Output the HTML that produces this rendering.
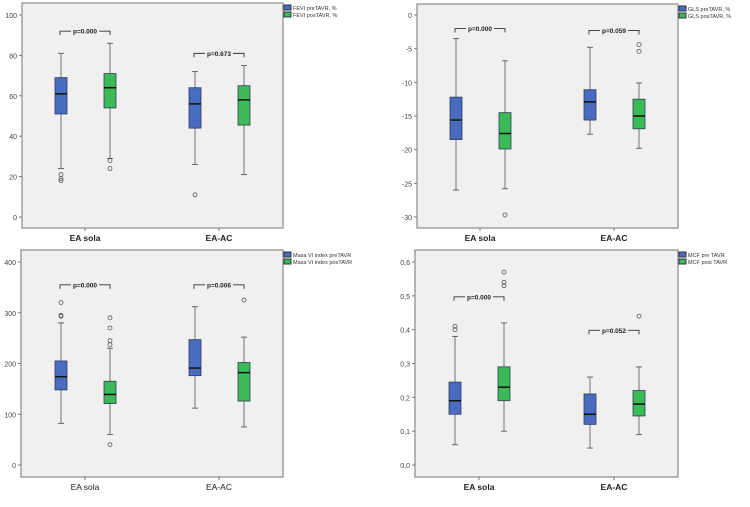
<!DOCTYPE html>
<html><head><meta charset="utf-8"><style>
body{margin:0;background:#fff;width:750px;height:502px;overflow:hidden;font-family:"Liberation Sans",sans-serif}
svg text{font-family:"Liberation Sans",sans-serif}
</style></head><body>
<svg id="c" width="750" height="502" xmlns="http://www.w3.org/2000/svg"></svg>
<script>
const groups = ["EA sola", "EA-AC"];
// [lowWhisker, Q1, median, Q3, highWhisker]
const fevi_pre = [[24,51,61,69,81],[26,44,56,64,72]];
const fevi_post = [[29,54,64,71,86],[21,45.5,58,65,75]];
const fevi_pre_out = [[21,19,18],[11]];
const fevi_post_out = [[28,24],[]];
const fevi_ticks = [0,20,40,60,80,100];
const fevi_p = ["p=0.000","p=0.673"];
const fevi_br = [92,81];

const gls_pre = [[-26,-18.5,-15.6,-12.2,-3.5],[-17.7,-15.6,-12.9,-11.1,-4.8]];
const gls_post = [[-25.8,-19.9,-17.6,-14.5,-6.8],[-19.8,-16.9,-15,-12.5,-10.1]];
const gls_pre_out = [[],[]];
const gls_post_out = [[-29.7],[-4.4,-5.4]];
const gls_ticks = [0,-5,-10,-15,-20,-25,-30];
const gls_p = ["p=0.000","p=0.059"];
const gls_br = [-2,-2.3];

const masa_pre = [[82,148,174,205,280],[112,176,191,247,312]];
const masa_post = [[60,121,139,165,230],[75,126,182,202,252]];
const masa_pre_out = [[320,295,293],[]];
const masa_post_out = [[40,237,245,270,290],[325]];
const masa_ticks = [0,100,200,300,400];
const masa_p = ["p=0.000","p=0.006"];
const masa_br = [355,355];

const mcf_pre = [[0.06,0.15,0.19,0.245,0.38],[0.05,0.12,0.15,0.21,0.26]];
const mcf_post = [[0.10,0.19,0.23,0.29,0.42],[0.09,0.145,0.18,0.22,0.29]];
const mcf_pre_out = [[0.41,0.40],[]];
const mcf_post_out = [[0.57,0.54,0.53],[0.44]];
const mcf_ticks = [0,0.1,0.2,0.3,0.4,0.5,0.6];
const mcf_p = ["p=0.000","p=0.052"];
const mcf_br = [0.497,0.398];

const NS="http://www.w3.org/2000/svg";
const svg=document.getElementById('c');
function mk(tag,attrs,parent){const e=document.createElementNS(NS,tag);for(const k in attrs)e.setAttribute(k,attrs[k]);(parent||svg).appendChild(e);return e;}

function panel(o){
  const g=mk('g',{});
  
  
  const y=v=>o.y1+(v-o.vmax)/(o.vmin-o.vmax)*(o.y0-o.y1);
  const bg=mk('rect',{x:o.fx0,y:o.fy0,width:o.fx1-o.fx0,height:o.fy1-o.fy0,fill:'#f0f0f0',stroke:'#8a8a8a','stroke-width':1.2},g);
  
  
  o.ticks.forEach(t=>{
    mk('line',{x1:o.fx0-3,x2:o.fx0,y1:y(t),y2:y(t),stroke:'#777'},g);
    const tx=mk('text',{x:o.fx0-5,y:y(t)+3,'font-size':7,'text-anchor':'end',fill:'#444'},g);
    tx.textContent=o.fmt(t);
    
    
  });
  groups.forEach((gn,i)=>{
    const cx=o.gx[i];
    mk('line',{x1:cx,x2:cx,y1:o.fy1,y2:o.fy1+3,stroke:'#777'},g);
    const lt=mk('text',{x:cx,y:o.fy1+13,'font-size':8.5,'font-weight':o.bold?'bold':'normal','text-anchor':'middle',fill:'#222'},g);
    lt.textContent=gn;
    
    
    [[o.pre,o.preOut,'#4a6cc0',-24],[o.post,o.postOut,'#3cba58',25]].forEach(([d,out,col,off])=>{
      const x=cx+off,b=d[i],w=12;
      mk('line',{x1:x,x2:x,y1:y(b[0]),y2:y(b[4]),stroke:'#888','stroke-width':1.2},g);
      mk('line',{x1:x-3,x2:x+3,y1:y(b[0]),y2:y(b[0]),stroke:'#666'},g);
      mk('line',{x1:x-3,x2:x+3,y1:y(b[4]),y2:y(b[4]),stroke:'#666'},g);
      const r=mk('rect',{x:x-w/2,y:y(b[3]),width:w,height:y(b[1])-y(b[3]),fill:col,stroke:'#2f3d5a','stroke-width':0.8},g);
      
      
      mk('line',{x1:x-w/2,x2:x+w/2,y1:y(b[2]),y2:y(b[2]),stroke:'#111','stroke-width':1.5},g);
      out[i].forEach(v=>{mk('circle',{cx:x,cy:y(v),r:2,fill:'none',stroke:'#555','stroke-width':0.8},g);});
    });
    const by=y(o.br[i]),xl=cx-25,xr=cx+25;
    mk('path',{d:`M${xl},${by+4}V${by}H${cx-14}M${cx+14},${by}H${xr}V${by+4}`,fill:'none',stroke:'#333','stroke-width':0.9},g);
    const pt=mk('text',{x:cx,y:by+2.5,'font-size':6.5,'font-weight':'bold','text-anchor':'middle',fill:'#222'},g);
    pt.textContent=o.p[i];
    
    
  });
  [[o.leg[0],'#4a6cc0'],[o.leg[1],'#3cba58']].forEach(([t,c],k)=>{
    mk('rect',{x:o.fx1+1,y:o.fy0+2+k*7,width:7,height:5,fill:c,stroke:'#334'},g);
    const lt=mk('text',{x:o.fx1+10,y:o.fy0+7+k*7,'font-size':5.5,fill:'#333'},g);
    lt.textContent=t;
    
    
  });
}
const f0=t=>String(t);
const f1=t=>t.toFixed(1).replace('.',',');
panel({name:'fevi-panel',fx0:22,fx1:283,fy0:3,fy1:228,y1:15,y0:217,vmax:100,vmin:0,ticks:fevi_ticks,fmt:f0,gx:[85,219],pre:fevi_pre,post:fevi_post,preOut:fevi_pre_out,postOut:fevi_post_out,p:fevi_p,br:fevi_br,leg:['FEVI preTAVR, %','FEVI posTAVR, %'],bold:true});
panel({name:'gls-panel',fx0:417,fx1:678,fy0:4,fy1:228,y1:15,y0:217,vmax:0,vmin:-30,ticks:gls_ticks,fmt:f0,gx:[480,614],pre:gls_pre,post:gls_post,preOut:gls_pre_out,postOut:gls_post_out,p:gls_p,br:gls_br,leg:['GLS preTAVR, %','GLS posTAVR, %'],bold:true});
panel({name:'masa-panel',fx0:21,fx1:283,fy0:250,fy1:477,y1:262,y0:465,vmax:400,vmin:0,ticks:masa_ticks,fmt:f0,gx:[85,219],pre:masa_pre,post:masa_post,preOut:masa_pre_out,postOut:masa_post_out,p:masa_p,br:masa_br,leg:['Masa VI index preTAVR','Masa VI index posTAVR'],bold:false});
panel({name:'mcf-panel',fx0:415,fx1:678,fy0:250,fy1:477,y1:262,y0:465,vmax:0.6,vmin:0,ticks:mcf_ticks,fmt:f1,gx:[479,614],pre:mcf_pre,post:mcf_post,preOut:mcf_pre_out,postOut:mcf_post_out,p:mcf_p,br:mcf_br,leg:['MCF pre TAVR','MCF post TAVR'],bold:true});
</script>
</body></html>
